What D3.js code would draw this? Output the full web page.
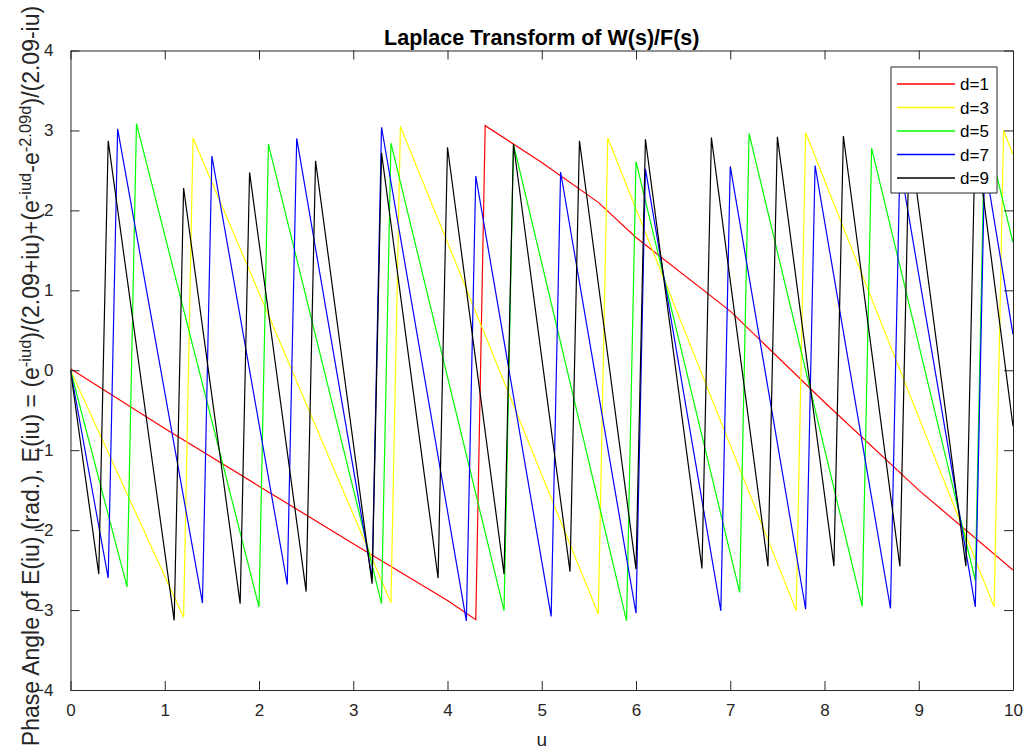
<!DOCTYPE html>
<html>
<head>
<meta charset="utf-8">
<script src="https://cdn.jsdelivr.net/npm/d3@7"></script>
<style>
  body { margin: 0; background: #ffffff; }
  text { font-family: "Liberation Sans", Arial, Helvetica, sans-serif; }
</style>
</head>
<body>
<svg id="chart" width="1028" height="752"></svg>
<script>
// Axis ticks
const xTicks = [0, 1, 2, 3, 4, 5, 6, 7, 8, 9, 10];
const yTicks = [-4, -3, -2, -1, 0, 1, 2, 3, 4];

// Series names and line colours
const seriesNames = ["d=1", "d=3", "d=5", "d=7", "d=9"];
const seriesColors = ["#ff0000", "#ffff00", "#00ff00", "#0000ff", "#000000"];

// Phase angle (rad.) against u, vertices of each curve
const phaseD1 = [[0, 0.02], [1, -0.73], [2, -1.45], [3, -2.17], [4, -2.88], [4.3, -3.12],
  [4.4, 3.06], [5, 2.6], [5.6, 2.1], [6, 1.66], [7, 0.74], [8, -0.4], [9, -1.5], [10, -2.5]];

const phaseD3 = [[0, 0], [1.2, -3.09], [1.3, 2.905], [3.4, -2.91], [3.5, 3.05], [5.6, -3.05],
  [5.7, 2.905], [7.7, -3.006], [7.8, 2.97], [9.8, -2.96], [9.9, 3.0], [10, 2.70]];

const phaseD5 = [[0, 0], [0.6, -2.71], [0.7, 3.085], [2.0, -2.96], [2.1, 2.83], [3.3, -2.92],
  [3.4, 2.84], [4.6, -3.006], [4.7, 2.83], [5.9, -3.135], [6.0, 2.61], [7.1, -2.78], [7.2, 2.96],
  [8.4, -2.955], [8.5, 2.78], [9.6, -2.63], [9.7, 3.05], [10, 1.6]];

const phaseD7 = [[0, 0], [0.4, -2.60], [0.5, 3.02], [1.4, -2.91], [1.5, 2.68], [2.3, -2.68],
  [2.4, 2.90], [3.2, -2.6], [3.3, 3.04], [4.2, -3.135], [4.3, 2.43], [5.1, -3.08], [5.2, 2.48],
  [6.0, -3.04], [6.1, 2.52], [6.9, -3.01], [7.0, 2.55], [7.8, -2.99], [7.9, 2.56], [8.7, -2.98],
  [8.8, 2.58], [9.6, -2.96], [9.7, 2.6], [10, 0.45]];

const phaseD9 = [[0, 0], [0.3, -2.55], [0.4, 2.87], [1.1, -3.13], [1.2, 2.28], [1.8, -2.92],
  [1.9, 2.475], [2.5, -2.77], [2.6, 2.62], [3.2, -2.67], [3.3, 2.72], [3.9, -2.60], [4.0, 2.79],
  [4.6, -2.55], [4.7, 2.83], [5.3, -2.52], [5.4, 2.87], [6.0, -2.49], [6.1, 2.89], [6.7, -2.48],
  [6.8, 2.91], [7.4, -2.455], [7.5, 2.92], [8.1, -2.45], [8.2, 2.93], [8.8, -2.455], [8.9, 2.94],
  [9.5, -2.45], [9.6, 2.95], [10, -0.7]];

const seriesData = [phaseD1, phaseD3, phaseD5, phaseD7, phaseD9];

const svg = d3.select("#chart");
const axisColor = "#262626";
const plot = { left: 70.5, right: 1013, top: 50.5, bottom: 690 };

const x = d3.scaleLinear().domain([0, 10]).range([plot.left, plot.right]);
const y = d3.scaleLinear().domain([-4, 4]).range([plot.bottom, plot.top]);

svg.append("rect").attr("width", 1028).attr("height", 752).attr("fill", "#ffffff");

// Curves
const line = d3.line().x(d => x(d[0])).y(d => y(d[1]));
svg.append("defs").append("clipPath").attr("id", "plotClip")
  .append("rect")
  .attr("x", plot.left).attr("y", plot.top)
  .attr("width", plot.right - plot.left).attr("height", plot.bottom - plot.top);

const curves = svg.append("g").attr("clip-path", "url(#plotClip)");
seriesData.forEach((data, i) => {
  curves.append("path")
    .datum(data)
    .attr("fill", "none")
    .attr("stroke", seriesColors[i])
    .attr("stroke-width", 1.2)
    .attr("stroke-linejoin", "miter")
    .attr("d", line);
});

// Axes: ticks point inward on all four sides
const tickLen = 9;
function styleAxis(g) {
  g.select(".domain").attr("stroke", axisColor).attr("stroke-width", 1);
  g.selectAll(".tick line").attr("stroke", axisColor);
  g.selectAll(".tick text").attr("fill", axisColor).attr("font-size", 17)
    .attr("font-family", "Liberation Sans, Arial, sans-serif");
}

svg.append("g")
  .attr("transform", `translate(0,${plot.bottom})`)
  .call(d3.axisBottom(x).tickValues(xTicks).tickSizeInner(-tickLen).tickSizeOuter(0).tickPadding(14).tickFormat(d3.format("d")))
  .call(styleAxis);

svg.append("g")
  .attr("transform", `translate(0,${plot.top})`)
  .call(d3.axisTop(x).tickValues(xTicks).tickSizeInner(-tickLen).tickSizeOuter(0).tickFormat(""))
  .call(styleAxis);

svg.append("g")
  .attr("transform", `translate(${plot.left},0)`)
  .call(d3.axisLeft(y).tickValues(yTicks).tickSizeInner(-tickLen).tickSizeOuter(0).tickPadding(17).tickFormat(d3.format("d")))
  .call(styleAxis);

svg.append("g")
  .attr("transform", `translate(${plot.right},0)`)
  .call(d3.axisRight(y).tickValues(yTicks).tickSizeInner(-tickLen).tickSizeOuter(0).tickFormat(""))
  .call(styleAxis);

// Title
svg.append("text")
  .attr("x", (plot.left + plot.right) / 2)
  .attr("y", 45)
  .attr("text-anchor", "middle")
  .attr("font-size", 21.5)
  .attr("font-weight", "bold")
  .attr("fill", "#000000")
  .text("Laplace Transform of W(s)/F(s)");

// X label
svg.append("text")
  .attr("x", (plot.left + plot.right) / 2)
  .attr("y", 746)
  .attr("text-anchor", "middle")
  .attr("font-size", 19)
  .attr("fill", axisColor)
  .text("u");

// Y label with superscripts
const yLabel = svg.append("text")
  .attr("transform", "translate(39,376) rotate(-90)")
  .attr("text-anchor", "middle")
  .attr("font-size", 23)
  .attr("fill", axisColor);
const labelParts = [
  ["Phase Angle of E(iu) (rad.), E(iu) = (e", false],
  ["-iud", true],
  [")/(2.09+iu)+(e", false],
  ["-iud", true],
  ["-e", false],
  ["-2.09d", true],
  [")/(2.09-iu)", false]
];
labelParts.forEach(([t, sup]) => {
  yLabel.append("tspan")
    .attr("font-size", sup ? 16.5 : 23)
    .attr("baseline-shift", sup ? "45%" : "0%")
    .text(t);
});

// Legend
const legend = svg.append("g");
const lg = { x: 891, y: 67, w: 106, h: 126 };
legend.append("rect")
  .attr("x", lg.x).attr("y", lg.y).attr("width", lg.w).attr("height", lg.h)
  .attr("fill", "#ffffff").attr("stroke", axisColor).attr("stroke-width", 1);
seriesNames.forEach((name, i) => {
  const cy = lg.y + 17 + i * 23.5;
  legend.append("line")
    .attr("x1", lg.x + 6).attr("x2", lg.x + 64)
    .attr("y1", cy).attr("y2", cy)
    .attr("stroke", seriesColors[i]).attr("stroke-width", 1.4);
  legend.append("text")
    .attr("x", lg.x + 69).attr("y", cy + 6)
    .attr("font-size", 17)
    .attr("fill", "#000000")
    .text(name);
});
</script>
</body>
</html>
